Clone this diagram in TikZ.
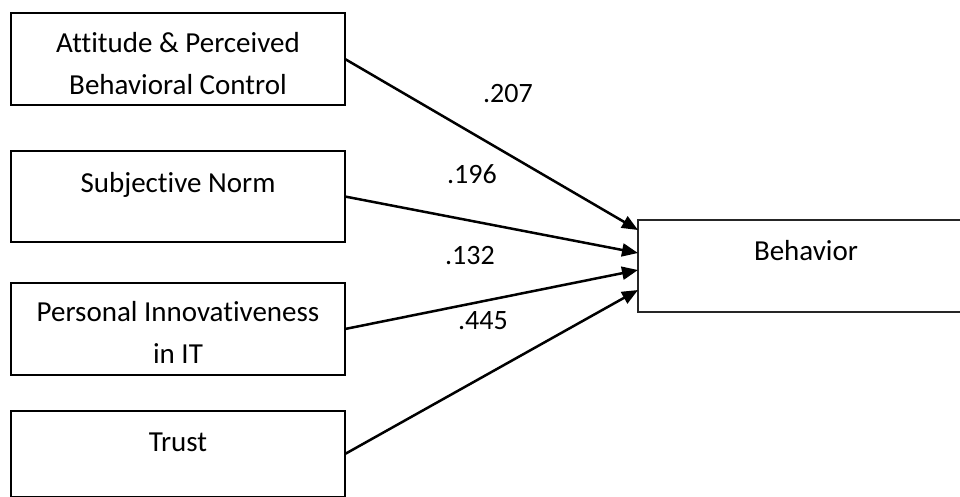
\documentclass[tikz,border=0pt]{standalone}
\usepackage{fontspec}
\setmainfont{Carlito}[Ligatures=CommonOff]
\usetikzlibrary{arrows.meta,calc}
\begin{document}
\begin{tikzpicture}[x=1pt,y=-1pt,
  box/.style={draw=black,line width=2.7pt,minimum width=334pt,inner sep=0pt,outer sep=0pt},
  txt/.style={font=\fontsize{29}{42}\selectfont,inner sep=0pt,align=center},
  lbl/.style={font=\fontsize{28}{34}\selectfont,inner sep=0pt},
  link/.style={line width=2.5pt,-{Triangle[length=16pt,width=13pt]}}]
\useasboundingbox (0,0) rectangle (960,496);
\clip (0,0) rectangle (960,496);
% boxes
\node[box,minimum height=92pt] (b1) at (178,59) {};
\node[box,minimum height=91pt] (b2) at (178,196.5) {};
\node[box,minimum height=92pt] (b3) at (178,329) {};
\node[box,minimum height=86pt] (b4) at (178,454) {};
\node[box,draw=black!85,line width=2pt,minimum width=336pt,minimum height=92pt] (beh) at (806,266) {};
% texts
\node[txt] (t1) at (178,64) {Attitude \& Perceived\\Behavioral Control};
\node[txt,anchor=base] (t2) at (178,192) {Subjective Norm};
\node[txt] (t3) at (178,332.5) {Personal Innovativeness\\in IT};
\node[txt,anchor=base] (t4) at (178,451) {Trust};
\node[txt,anchor=base] (t5) at (806,260) {Behavior};
% arrow end points
\coordinate (e1) at ($(beh.west)+(0,-36)$);
\coordinate (e2) at ($(beh.west)+(0,-13)$);
\coordinate (e3) at ($(beh.west)+(0,4)$);
\coordinate (e4) at ($(beh.west)+(0,24)$);
\draw[link] (b1.east) -- (e1);
\draw[link] (b2.east) -- (e2);
\draw[link] (b3.east) -- (e3);
\draw[link] (b4.east) -- (e4);
% labels
\node[lbl] (l1) at (508,94) {.207};
\node[lbl] (l2) at (472,174) {.196};
\node[lbl] (l3) at (470,256) {.132};
\node[lbl] (l4) at (483,321) {.445};
\end{tikzpicture}
\end{document}
